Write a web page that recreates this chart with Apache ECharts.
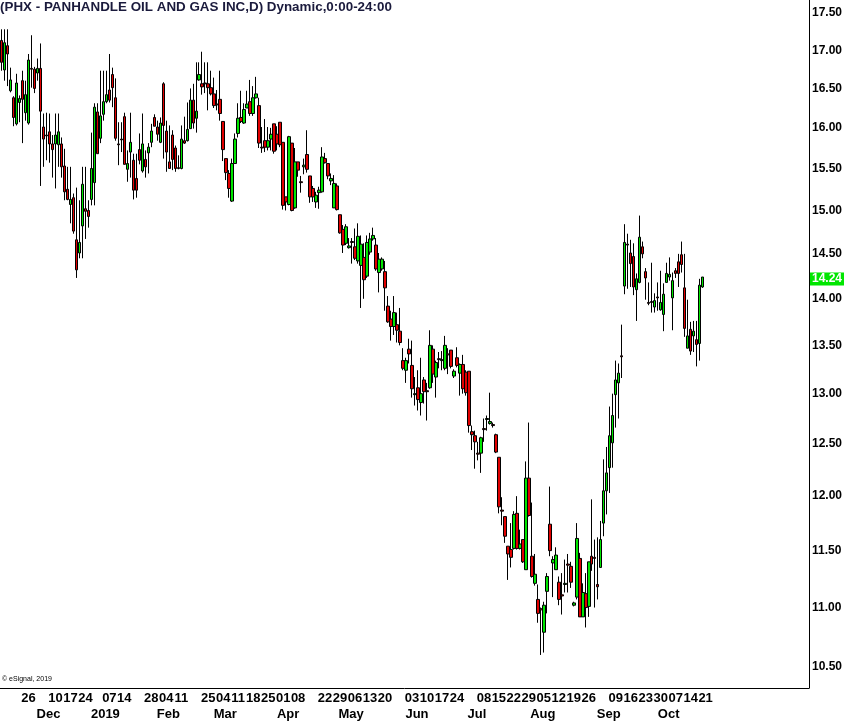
<!DOCTYPE html>
<html><head><meta charset="utf-8">
<script src="https://cdn.jsdelivr.net/npm/echarts@6/dist/echarts.min.js"></script>
<style>html,body{margin:0;padding:0;background:#fff}#c{width:845px;height:724px}</style>
</head><body><div id="c"></div>
<script>
const categories = [
'2018-11-13','2018-11-14','2018-11-15','2018-11-16','2018-11-19','2018-11-20','2018-11-21','2018-11-23','2018-11-26','2018-11-27','2018-11-28','2018-11-29','2018-11-30',
'2018-12-03','2018-12-04','2018-12-06','2018-12-07','2018-12-10','2018-12-11','2018-12-12','2018-12-13','2018-12-14','2018-12-17','2018-12-18','2018-12-19','2018-12-20','2018-12-21','2018-12-24','2018-12-26','2018-12-27','2018-12-28','2018-12-31',
'2019-01-02','2019-01-03','2019-01-04','2019-01-07','2019-01-08','2019-01-09','2019-01-10','2019-01-11','2019-01-14','2019-01-15','2019-01-16','2019-01-17','2019-01-18','2019-01-22','2019-01-23','2019-01-24','2019-01-25','2019-01-28','2019-01-29','2019-01-30','2019-01-31',
'2019-02-01','2019-02-04','2019-02-05','2019-02-06','2019-02-07','2019-02-08','2019-02-11','2019-02-12','2019-02-13','2019-02-14','2019-02-15','2019-02-19','2019-02-20','2019-02-21','2019-02-22','2019-02-25','2019-02-26','2019-02-27','2019-02-28',
'2019-03-01','2019-03-04','2019-03-05','2019-03-06','2019-03-07','2019-03-08','2019-03-11','2019-03-12','2019-03-13','2019-03-14','2019-03-15','2019-03-18','2019-03-19','2019-03-20','2019-03-21','2019-03-22','2019-03-25','2019-03-26','2019-03-27','2019-03-28','2019-03-29',
'2019-04-01','2019-04-02','2019-04-03','2019-04-04','2019-04-05','2019-04-08','2019-04-09','2019-04-10','2019-04-11','2019-04-12','2019-04-15','2019-04-16','2019-04-17','2019-04-18','2019-04-22','2019-04-23','2019-04-24','2019-04-25','2019-04-26','2019-04-29','2019-04-30',
'2019-05-01','2019-05-02','2019-05-03','2019-05-06','2019-05-07','2019-05-08','2019-05-09','2019-05-10','2019-05-13','2019-05-14','2019-05-15','2019-05-16','2019-05-17','2019-05-20','2019-05-21','2019-05-22','2019-05-23','2019-05-24','2019-05-28','2019-05-29','2019-05-30','2019-05-31',
'2019-06-03','2019-06-04','2019-06-05','2019-06-06','2019-06-07','2019-06-10','2019-06-11','2019-06-12','2019-06-13','2019-06-14','2019-06-17','2019-06-18','2019-06-19','2019-06-20','2019-06-21','2019-06-24','2019-06-25','2019-06-26','2019-06-27','2019-06-28',
'2019-07-01','2019-07-02','2019-07-03','2019-07-05','2019-07-08','2019-07-09','2019-07-10','2019-07-11','2019-07-12','2019-07-15','2019-07-16','2019-07-17','2019-07-18','2019-07-19','2019-07-22','2019-07-23','2019-07-24','2019-07-25','2019-07-26','2019-07-29','2019-07-30','2019-07-31',
'2019-08-01','2019-08-02','2019-08-05','2019-08-06','2019-08-07','2019-08-08','2019-08-09','2019-08-12','2019-08-13','2019-08-14','2019-08-15','2019-08-16','2019-08-19','2019-08-20','2019-08-21','2019-08-22','2019-08-23','2019-08-26','2019-08-27','2019-08-28','2019-08-29','2019-08-30',
'2019-09-03','2019-09-04','2019-09-05','2019-09-06','2019-09-09','2019-09-10','2019-09-11','2019-09-12','2019-09-13','2019-09-16','2019-09-17','2019-09-18','2019-09-19','2019-09-20','2019-09-23','2019-09-24','2019-09-25','2019-09-26','2019-09-27','2019-09-30',
'2019-10-01','2019-10-02','2019-10-03','2019-10-04','2019-10-07','2019-10-08','2019-10-09','2019-10-10','2019-10-11','2019-10-14','2019-10-15','2019-10-16','2019-10-17','2019-10-18','2019-10-21'
];

const opens = [
17.13,16.74,17.06,16.47,16.38,16.05,16.32,16.60,16.19,16.06,16.76,16.75,16.70,16.76,16.01,15.91,15.95,15.80,15.80,15.79,15.80,15.53,15.25,15.07,15.15,14.66,14.51,14.82,15.02,15.00,15.13,15.33,16.20,15.87,16.17,16.33,16.48,16.68,16.38,15.80,15.86,16.14,15.49,15.70,15.60,15.38,15.73,15.47,
15.61,15.69,15.82,16.13,16.01,15.82,16.56,15.96,15.58,15.91,15.75,15.51,15.50,15.84,15.84,15.99,16.35,16.12,16.61,16.56,16.57,16.56,16.51,16.43,16.30,16.36,16.08,15.62,15.44,15.11,15.56,15.93,16.13,16.06,16.25,16.33,16.18,16.38,16.28,15.76,15.84,15.76,15.86,16.05,15.92,16.07,15.82,15.16,15.07,
15.81,15.03,15.58,15.34,15.52,15.67,15.41,15.26,15.10,15.21,15.22,15.62,15.56,15.35,15.03,15.29,14.95,14.78,14.62,14.57,14.64,14.58,14.42,14.37,14.46,14.25,14.52,14.67,14.60,14.29,14.33,14.30,13.92,13.78,13.70,13.72,13.65,13.34,13.24,13.46,13.29,12.99,13.06,12.91,13.14,13.03,
13.06,13.46,13.17,13.36,13.34,13.26,13.41,13.45,13.18,13.37,13.21,13.30,13.22,13.23,12.62,12.58,12.41,12.41,12.65,12.74,12.70,12.69,12.59,12.37,11.87,11.81,11.54,11.51,11.52,11.84,11.52,11.60,11.33,12.17,11.45,11.21,11.07,10.99,10.79,11.14,11.74,11.39,11.33,11.22,11.11,11.20,11.38,
11.36,11.02,11.09,11.43,10.92,11.12,11.01,11.45,11.44,11.20,11.35,11.75,12.05,12.27,12.51,12.99,
13.11,13.39,14.14,14.61,14.51,14.47,14.10,14.18,14.58,14.30,13.96,13.97,13.91,14.02,13.88,13.83,14.18,14.24,14.01,14.31,14.41,14.49,14.12,13.47,13.67,13.60,13.56,13.52,14.13
];
const closes = [
16.84,17.10,16.95,16.61,16.13,16.57,16.37,16.36,16.42,16.87,16.75,16.50,16.76,16.21,15.86,15.90,15.80,15.73,15.91,15.95,15.52,15.22,15.13,15.13,14.76,14.32,14.63,15.31,14.99,14.93,15.50,16.26,15.68,16.15,16.33,16.42,16.35,16.51,15.87,15.79,15.85,15.55,15.56,15.82,15.24,15.24,15.60,15.80,
15.52,15.76,15.96,16.02,15.92,16.06,16.03,15.70,15.50,15.61,15.50,15.50,15.86,15.81,15.98,16.35,16.06,16.21,16.68,16.52,16.56,16.51,16.43,16.28,16.29,16.18,15.73,15.45,15.26,15.56,15.86,16.12,16.08,16.23,16.30,16.18,16.38,16.43,15.81,15.75,15.76,15.84,15.92,15.71,15.80,15.79,15.06,15.10,15.89,
15.00,15.58,15.48,15.33,15.54,15.49,15.16,15.16,15.18,15.24,15.64,15.57,15.41,15.38,15.32,15.01,14.74,14.60,14.81,14.59,14.63,14.45,14.70,14.61,14.21,14.63,14.67,14.71,14.33,14.44,14.44,14.12,13.75,13.70,13.85,13.66,13.53,13.26,13.34,13.41,13.05,13.00,12.94,13.00,13.02,13.02,
13.50,13.20,13.32,13.35,13.35,13.50,13.40,13.28,13.23,13.29,13.30,13.05,13.01,12.68,12.59,12.52,12.40,12.56,12.64,12.75,12.72,12.68,12.42,11.90,11.86,11.63,11.47,11.44,11.83,11.52,11.56,11.40,12.17,11.82,11.27,11.29,10.95,10.98,11.02,11.27,11.50,11.42,11.46,11.07,11.10,11.21,11.37,
11.22,11.04,11.61,10.92,11.13,11.00,11.40,11.38,11.43,11.18,11.60,12.05,12.22,12.58,12.78,13.14,
13.21,13.38,14.63,14.60,14.39,14.13,14.22,14.69,14.50,14.23,13.95,13.96,13.98,14.01,13.96,14.05,14.28,14.27,14.20,14.28,14.28,14.38,13.68,13.60,13.44,13.65,13.51,14.15,14.24
];
const lows = [
16.73,16.60,16.53,16.45,16.02,16.03,16.07,15.81,16.09,16.04,16.51,16.44,16.60,15.29,15.52,15.60,15.57,15.39,15.26,15.52,15.39,15.12,15.12,14.85,14.73,14.23,14.45,14.45,14.67,14.80,15.06,15.06,15.68,15.81,16.09,16.31,16.32,16.26,15.84,15.54,15.70,15.55,15.34,15.39,15.13,15.15,15.55,15.45,
15.39,15.44,15.76,16.02,15.84,15.81,15.62,15.46,15.50,15.48,15.46,15.49,15.49,15.80,15.83,15.99,15.99,15.94,16.60,16.42,16.44,16.22,16.41,16.25,16.22,16.09,15.59,15.36,15.15,15.10,15.56,15.88,16.06,16.05,16.25,16.15,16.15,16.37,15.75,15.69,15.70,15.72,15.72,15.68,15.72,15.76,15.01,15.00,15.06,
14.99,15.02,15.40,15.21,15.43,15.45,15.09,15.10,15.03,15.02,15.21,15.56,15.37,15.30,15.03,15.00,14.73,14.51,14.60,14.56,14.39,14.43,14.39,13.90,14.00,14.23,14.49,14.65,14.31,14.07,14.31,13.87,13.74,13.55,13.61,13.53,13.50,13.24,13.11,13.31,12.96,12.88,12.83,12.78,12.90,12.73,
13.05,13.11,12.96,13.26,13.24,13.24,13.20,13.26,13.16,13.27,12.98,13.00,12.98,12.61,12.44,12.26,12.34,12.22,12.52,12.63,12.69,12.66,12.41,11.84,11.73,11.57,11.24,11.35,11.51,11.51,11.51,11.39,11.33,11.81,11.26,11.19,10.87,10.60,10.62,10.95,11.45,11.09,11.33,11.02,10.94,11.13,11.13,
11.17,11.01,11.07,10.92,10.92,10.83,10.92,11.32,11.00,11.07,11.35,11.63,11.83,12.03,12.27,12.66,
12.75,13.16,14.05,14.11,14.13,14.04,13.76,14.17,14.45,13.99,13.93,13.85,13.85,13.87,13.87,13.65,14.18,14.20,13.66,14.23,14.13,14.29,13.59,13.47,13.40,13.43,13.28,13.34,14.12
];
const highs = [
17.28,17.28,17.28,16.77,16.40,16.69,16.41,16.73,16.60,16.95,17.20,16.78,16.89,17.09,16.18,16.19,16.18,15.91,16.18,16.18,15.88,15.74,15.52,15.52,15.20,15.27,15.12,15.52,15.52,15.12,15.94,16.31,16.31,16.73,16.73,16.73,16.95,16.77,16.63,16.07,16.07,16.19,15.72,16.19,15.68,15.68,15.93,16.18,
15.72,15.81,16.05,16.17,16.09,16.13,16.58,16.09,16.03,15.97,15.78,15.66,16.03,16.14,16.32,16.50,16.56,16.84,16.84,16.98,16.84,16.84,16.73,16.64,16.48,16.73,16.08,15.62,15.48,15.62,15.93,16.31,16.47,16.31,16.47,16.61,16.53,16.65,16.38,16.01,16.11,16.01,16.00,16.05,16.02,16.07,15.82,15.16,15.90,
15.81,15.75,15.58,15.41,15.62,15.97,15.41,15.29,15.22,15.28,15.76,15.69,15.56,15.44,15.42,15.32,14.95,14.83,14.84,14.68,14.68,14.79,14.85,14.71,14.62,14.71,14.74,14.80,14.68,14.51,14.46,14.42,14.03,13.87,14.03,13.85,13.90,13.47,13.37,13.57,13.55,13.17,13.24,13.37,13.17,13.11,
13.66,13.50,13.34,13.43,13.44,13.60,13.47,13.45,13.25,13.48,13.31,13.40,13.24,13.23,12.68,12.63,12.52,12.57,12.75,12.78,13.01,12.71,12.60,12.37,11.99,11.81,11.54,11.75,11.86,12.00,11.69,11.60,12.33,12.71,11.94,11.47,11.20,11.00,11.05,11.30,12.09,11.45,11.53,11.27,11.30,11.42,11.47,
11.40,11.05,11.75,11.48,11.21,11.30,11.40,11.97,11.60,11.62,11.77,12.35,12.47,12.87,13.00,13.34,
13.31,13.72,14.84,14.73,14.66,14.62,14.28,14.94,14.64,14.34,14.18,14.40,14.06,14.18,14.31,14.17,14.40,14.46,14.29,14.34,14.50,14.64,14.50,13.99,13.75,13.76,13.76,14.22,14.24
];

const dayTickDates = ['2018-11-26','2018-12-10','2018-12-17','2018-12-24','2019-01-07','2019-01-14','2019-01-28','2019-02-04','2019-02-11','2019-02-25','2019-03-04','2019-03-11','2019-03-18','2019-03-25','2019-04-01','2019-04-08','2019-04-22','2019-04-29','2019-05-06','2019-05-13','2019-05-20','2019-06-03','2019-06-10','2019-06-17','2019-06-24','2019-07-08','2019-07-15','2019-07-22','2019-07-29','2019-08-05','2019-08-12','2019-08-19','2019-08-26','2019-09-09','2019-09-16','2019-09-23','2019-09-30','2019-10-07','2019-10-14','2019-10-21'];
const monthTickDates = ['2018-12-03','2019-01-02','2019-02-01','2019-03-01','2019-04-01','2019-05-01','2019-06-03','2019-07-01','2019-08-01','2019-09-03','2019-10-01'];
const monthTickNames = ['Dec','2019','Feb','Mar','Apr','May','Jun','Jul','Aug','Sep','Oct'];
const priceTicks = [10.5,11.0,11.5,12.0,12.5,13.0,13.5,14.0,14.5,15.0,15.5,16.0,16.5,17.0,17.5];
const priceMin = 10.33, priceMax = 17.68;
const titleText = '(PHX - PANHANDLE OIL AND GAS INC,D) Dynamic,0:00-24:00';

const lastPrice = closes[closes.length - 1];
const padCount = 35;
const axisCats = categories.concat(Array.from({length: padCount}, (_, i) => 'future-' + (i + 1)));
const candleData = opens.map((o, i) => [Math.log(o), Math.log(closes[i]), Math.log(lows[i]), Math.log(highs[i])]);
const daySet = new Set(dayTickDates);
const monthMap = {};
monthTickDates.forEach((d, i) => { monthMap[d] = monthTickNames[i]; });
const narrow = '"Liberation Sans Narrow","Arial Narrow","Liberation Sans",Arial,sans-serif';
const sans = '"Liberation Sans",Arial,sans-serif';

const chart = echarts.init(document.getElementById('c'), null, {renderer: 'canvas'});
chart.setOption({
  animation: false,
  backgroundColor: '#fff',
  grid: {left: 0, right: 36, top: 0, bottom: 36, containLabel: false},
  xAxis: [{
    type: 'category', data: axisCats, boundaryGap: true,
    axisLine: {show: true, lineStyle: {color: '#000', width: 1}},
    axisTick: {show: false}, splitLine: {show: false},
    axisLabel: {
      interval: (idx, val) => daySet.has(val),
      formatter: v => v.slice(8),
      hideOverlap: false, showMinLabel: true, showMaxLabel: true,
      padding: [0, 0, 0, 6],
      fontFamily: narrow, fontWeight: 'bold', fontSize: 13, color: '#000', margin: 4
    }
  }, {
    type: 'category', data: axisCats, boundaryGap: true, position: 'bottom', offset: 17,
    axisLine: {show: false}, axisTick: {show: false}, splitLine: {show: false},
    axisLabel: {
      interval: (idx, val) => val in monthMap,
      formatter: v => monthMap[v] || '',
      hideOverlap: false,
      padding: [0, 0, 0, 16],
      fontFamily: narrow, fontWeight: 'bold', fontSize: 13, color: '#000', margin: 3
    }
  }],
  yAxis: {
    type: 'value', position: 'right',
    min: Math.log(priceMin), max: Math.log(priceMax),
    axisLine: {show: true, lineStyle: {color: '#000', width: 1}},
    axisTick: {show: false}, splitLine: {show: false},
    axisLabel: {
      customValues: priceTicks.map(Math.log),
      formatter: v => Math.exp(v).toFixed(2),
      fontFamily: sans, fontWeight: 'bold', fontSize: 12,
      color: '#000', margin: 3
    }
  },
  series: [{
    type: 'candlestick',
    data: candleData,
    barWidth: 3,
    itemStyle: {
      color: '#00e600', color0: '#e00000',
      borderColor: '#000', borderColor0: '#000', borderColorDoji: '#000',
      borderWidth: 1
    },
    markLine: {
      silent: true, symbol: ['none', 'none'],
      lineStyle: {width: 0, color: 'rgba(0,0,0,0)', type: 'solid'},
      label: {
        show: true, position: 'end', distance: 1,
        align: 'left', verticalAlign: 'middle', offset: [0, 7],
        formatter: () => lastPrice.toFixed(2),
        backgroundColor: '#00e600', color: '#ffffff',
        fontFamily: sans, fontWeight: 'bold', fontSize: 12,
        padding: [1, 2, 0, 2]
      },
      data: [{yAxis: Math.log(lastPrice)}]
    }
  }],
  graphic: [
    {type: 'text', left: 0, top: 1, style: {text: titleText, font: 'bold 13.4px "Liberation Sans", Arial, sans-serif', fill: '#1a1a3c'}},
    {type: 'text', left: 2, top: 676, style: {text: '\u00a9 eSignal, 2019', font: '7px "Liberation Sans", Arial, sans-serif', fill: '#000'}}
  ]
});
</script></body></html>
